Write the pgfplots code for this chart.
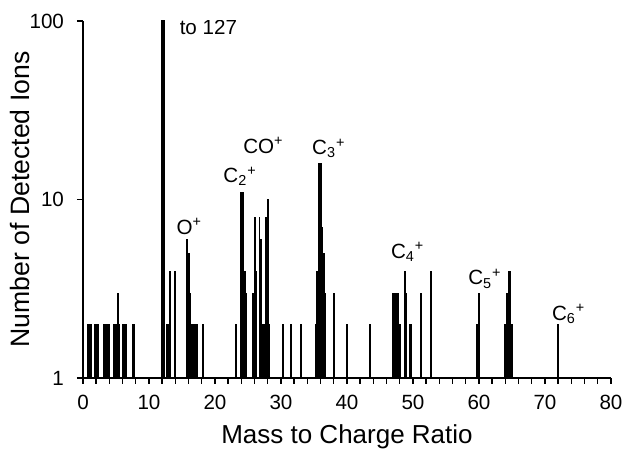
\documentclass[border=0pt]{standalone}
\usepackage{fontspec}
\setmainfont{Liberation Sans}
\usepackage{pgfplots}
\pgfplotsset{compat=1.18}

% binned counts, 0.25 m/z bins
\pgfplotstableread{
mz     n
0.75   2
1.0    2
1.25   2
1.75   2
2.0    2
2.25   2
3.25   2
3.5    2
3.75   2
4.0    2
4.75   2
5.0    2
5.25   3
5.5    2
6.0    2
6.25   2
6.5    2
7.5    2
7.75   2
12.0   127
12.25  127
12.75  2
13.0   2
13.25  4
14.0   4
15.75  6
16.0   5
16.25  3
16.5   2
16.75  2
17.0   2
17.25  2
18.25  2
23.25  2
24.0   11
24.25  11
24.5   4
24.75  3
25.75  3
26.0   8
26.25  4
26.75  8
27.0   6
27.25  2
27.5   2
27.75  8
28.0   10
28.25  2
30.25  2
31.5   2
33.0   2
35.25  2
35.5   4
35.75  16
36.0   16
36.25  7
36.5   5
36.75  3
38.0   3
40.0   2
43.5   2
47.0   3
47.25  3
47.5   3
47.75  3
48.0   2
48.75  4
49.0   3
49.5   2
49.75  2
51.25  3
52.75  4
59.75  2
60.0   3
64.0   2
64.25  3
64.5   4
64.75  4
65.0   2
72.0   2
}\spectrum

\begin{document}
\begin{tikzpicture}
\path[use as bounding box] (-41.5pt,-37.5pt) rectangle (270pt,189pt);
\begin{axis}[
  scale only axis, width=264pt, height=178.5pt,
  ymode=log, ymin=1, ymax=100, ytick={1,10,100},
  log ticks with fixed point, yminorticks=false,
  xmin=0, xmax=80, xtick={0,10,...,80}, minor xtick={2,4,...,78},
  axis x line*=bottom, axis y line*=left,
  axis line style={line width=0.7pt},
  tick align=outside, major tick length=3pt, minor tick length=3pt,
  every tick/.style={black, line width=0.7pt},
  tick label style={font=\fontsize{10.3}{12}\selectfont},
  yticklabel style={xshift=-3pt},
  xticklabel style={yshift=-2pt},
  /pgf/number format/assume math mode=true,
  xlabel={Mass to Charge Ratio},
  ylabel={Number of Detected Ions},
  every axis x label/.style={at={(axis description cs:0.5,-0.1653)}, anchor=center,
    font=\fontsize{13}{15}\selectfont},
  every axis y label/.style={at={(axis description cs:-0.1193,0.5)}, anchor=center, rotate=90,
    font=\fontsize{13.3}{15}\selectfont},
]
\addplot[ycomb, black, line width=0.95pt, mark=none] table[x=mz, y=n] {\spectrum};

\begin{scope}[every node/.style={font=\fontsize{10.3}{12}\selectfont, inner sep=0pt}]
\node[anchor=base west] at (axis cs:14.6,84) {to 127};
\node[anchor=base] at (axis cs:16.1,6.4) {O\textsuperscript{+}};
\node[anchor=base] at (axis cs:23.8,12.4) {C\textsubscript{2}\textsuperscript{+}};
\node[anchor=base] at (axis cs:27.35,18.2) {CO\textsuperscript{+}};
\node[anchor=base] at (axis cs:37.25,17.8) {C\textsubscript{3}\textsuperscript{+}};
\node[anchor=base] at (axis cs:49.2,4.7) {C\textsubscript{4}\textsuperscript{+}};
\node[anchor=base] at (axis cs:60.9,3.32) {C\textsubscript{5}\textsuperscript{+}};
\node[anchor=base] at (axis cs:73.6,2.11) {C\textsubscript{6}\textsuperscript{+}};
\end{scope}
\end{axis}
\end{tikzpicture}
\end{document}
